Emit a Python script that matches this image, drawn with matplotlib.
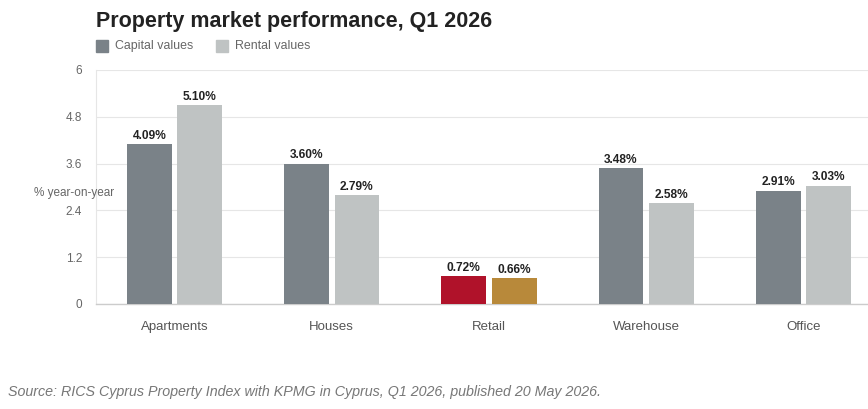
import matplotlib
matplotlib.use("Agg")
import matplotlib.pyplot as plt
import numpy as np
from matplotlib.patches import Rectangle

categories = ["Apartments", "Houses", "Retail", "Warehouse", "Office"]
capital_values = [4.09, 3.60, 0.72, 3.48, 2.91]
rental_values = [5.10, 2.79, 0.66, 2.58, 3.03]
y_ticks = [0, 1.2, 2.4, 3.6, 4.8, 6]

cap_color = "#7a8288"
rent_color = "#bfc3c3"
cap_colors = [cap_color, cap_color, "#b0122a", cap_color, cap_color]
rent_colors = [rent_color, rent_color, "#b8893a", rent_color, rent_color]

plt.rcParams['font.family'] = ['Liberation Sans', 'DejaVu Sans']

fig = plt.figure(figsize=(8.68, 4.09), dpi=100)
ax = fig.add_axes([96/868, 1-304/409, (882-96)/868, 234/409])

x = np.arange(len(categories))
w = 0.285
gap = 0.035
b1 = ax.bar(x - w/2 - gap/2, capital_values, w, color=cap_colors, zorder=3)
b2 = ax.bar(x + w/2 + gap/2, rental_values, w, color=rent_colors, zorder=3)

for bars, vals in ((b1, capital_values), (b2, rental_values)):
    for r, v in zip(bars, vals):
        ax.text(r.get_x() + r.get_width()/2, v + 0.06, f"{v:.2f}%",
                ha="center", va="bottom", fontsize=8.6, fontweight="bold",
                color="#222222")

ax.set_xlim(-0.5, len(categories) - 0.5)
ax.set_ylim(0, 6)
ax.set_yticks(y_ticks)
ax.set_yticklabels([f"{t:g}" for t in y_ticks])
ax.set_xticks(x)
ax.set_xticklabels(categories)
ax.tick_params(axis="x", length=0, pad=12, labelsize=9.5, labelcolor="#555555")
ax.tick_params(axis="y", length=0, pad=10, labelsize=8.5, labelcolor="#666666")
ax.grid(axis="y", color="#e6e6e6", linewidth=0.8, zorder=0)
for s in ("top", "right"):
    ax.spines[s].set_visible(False)
ax.spines["left"].set_color("#e6e6e6")
ax.spines["left"].set_linewidth(0.8)
ax.spines["bottom"].set_color("#cccccc")
ax.spines["bottom"].set_linewidth(1.0)

fig.text(74/868, 1-193/409, "% year-on-year", ha="center", va="center",
         fontsize=8.5, color="#666666")

fig.text(96/868, 1-21/409, "Property market performance, Q1 2026",
         ha="left", va="center", fontsize=15.5, fontweight="bold", color="#222222")

# legend
for lx, label, col in ((96, "Capital values", cap_color), (216, "Rental values", rent_color)):
    fig.patches.append(Rectangle((lx/868, 1-52/409), 12/868, 12/409,
                                 transform=fig.transFigure, color=col, figure=fig))
    fig.text((lx+19)/868, 1-46/409, label, ha="left", va="center",
             fontsize=8.9, color="#666666")

fig.text(8/868, 1-392/409,
         "Source: RICS Cyprus Property Index with KPMG in Cyprus, Q1 2026, published 20 May 2026.",
         ha="left", va="center", fontsize=10.3, style="italic", color="#777777")

fig.savefig("out.png", dpi=100)
